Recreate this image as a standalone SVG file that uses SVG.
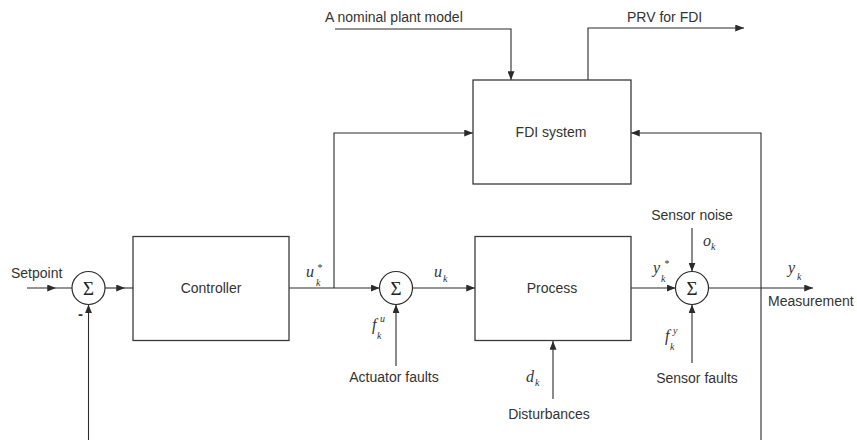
<svg xmlns="http://www.w3.org/2000/svg" width="857" height="440" viewBox="0 0 857 440">
  <defs>
    <marker id="arr" viewBox="0 0 10 8" refX="10" refY="4" markerWidth="9" markerHeight="7" markerUnits="userSpaceOnUse" orient="auto">
      <path d="M0,0 L10,4 L0,8 Z" fill="#2b2b2b"/>
    </marker>
  </defs>
  <style>
    .box { fill: #ffffff; stroke: #3a3a3a; stroke-width: 1.3; }
    .sum { fill: #ffffff; stroke: #2b2b2b; stroke-width: 1.2; }
    .wire { fill: none; stroke: #2b2b2b; stroke-width: 1.1; }
    .lbl { font-family: "Liberation Sans", Arial, sans-serif; font-size: 14px; fill: #333333; }
    .mid { text-anchor: middle; }
    .sig { font-family: "Liberation Serif", "Times New Roman", serif; font-size: 19px; fill: #222222; text-anchor: middle; }
    .m { font-family: "Liberation Serif", "Times New Roman", serif; font-style: italic; fill: #333333; }
    .mv { font-size: 16px; }
    .ms { font-size: 10px; }
  </style>

  <!-- connectors -->
  <g id="connectors">
    <path class="wire" d="M27,288 H56 H72" marker-mid="url(#arr)"/>
    <path class="wire" d="M105,288 H125 H133" marker-mid="url(#arr)"/>
    <path class="wire" d="M88.5,440 V304.5" marker-end="url(#arr)"/>
    <path class="wire" d="M289,288 H379.5" marker-end="url(#arr)"/>
    <path class="wire" d="M334,288 V133 H473" marker-end="url(#arr)"/>
    <path class="wire" d="M412.5,288 H475" marker-end="url(#arr)"/>
    <path class="wire" d="M396,366 V304.5" marker-end="url(#arr)"/>
    <path class="wire" d="M631,288 H675.5" marker-end="url(#arr)"/>
    <path class="wire" d="M553,399 V341" marker-end="url(#arr)"/>
    <path class="wire" d="M692,228 V271.5" marker-end="url(#arr)"/>
    <path class="wire" d="M692,363 V304.5" marker-end="url(#arr)"/>
    <path class="wire" d="M708.5,288 H813" marker-end="url(#arr)"/>
    <path class="wire" d="M761,440 V133 H631" marker-end="url(#arr)"/>
    <path class="wire" d="M335,29 H511 V80" marker-end="url(#arr)"/>
    <path class="wire" d="M588,80 V28 H744" marker-end="url(#arr)"/>
  </g>

  <!-- blocks -->
  <g id="controller">
    <rect class="box" x="133" y="236.5" width="156" height="104"/>
    <text class="lbl mid" x="211" y="293">Controller</text>
  </g>
  <g id="process">
    <rect class="box" x="475" y="236.5" width="156" height="104"/>
    <text class="lbl mid" x="552" y="293">Process</text>
  </g>
  <g id="fdi">
    <rect class="box" x="473" y="80" width="158" height="104"/>
    <text class="lbl mid" x="551" y="137">FDI system</text>
  </g>

  <!-- summing junctions -->
  <g id="sum1">
    <circle class="sum" cx="88.5" cy="288" r="16.5"/>
    <text class="sig" x="88.5" y="294.5">Σ</text>
  </g>
  <g id="sum2">
    <circle class="sum" cx="396" cy="288" r="16.5"/>
    <text class="sig" x="396" y="294.5">Σ</text>
  </g>
  <g id="sum3">
    <circle class="sum" cx="692" cy="288" r="16.5"/>
    <text class="sig" x="692" y="294.5">Σ</text>
  </g>

  <!-- signal names -->
  <g id="labels">
    <text class="lbl" x="11" y="278">Setpoint</text>
    <text x="80.5" y="319" font-family="Liberation Sans, Arial, sans-serif" font-size="15" font-weight="bold" fill="#333333" text-anchor="middle">-</text>
    <text class="lbl" x="325" y="22">A nominal plant model</text>
    <text class="lbl" x="627" y="22">PRV for FDI</text>
    <text class="lbl mid" x="692" y="220">Sensor noise</text>
    <text class="lbl" x="768" y="306">Measurement</text>
    <text class="lbl mid" x="697" y="383">Sensor faults</text>
    <text class="lbl mid" x="394" y="382">Actuator faults</text>
    <text class="lbl mid" x="549" y="419">Disturbances</text>
  </g>

  <!-- math symbols -->
  <g id="math">
    <text class="m mv" x="306" y="277">u</text>
    <text class="m ms" x="316" y="286">k</text>
    <text class="m ms" x="317" y="271">*</text>

    <text class="m mv" x="434" y="277">u</text>
    <text class="m ms" x="443" y="282">k</text>

    <text class="m mv" x="653" y="273">y</text>
    <text class="m ms" x="661" y="282">k</text>
    <text class="m ms" x="664" y="267">*</text>

    <text class="m mv" x="703" y="246">o</text>
    <text class="m ms" x="711" y="250">k</text>

    <text class="m mv" x="788" y="273">y</text>
    <text class="m ms" x="797" y="280">k</text>

    <text class="m mv" x="665" y="341">f</text>
    <text class="m ms" x="670" y="350">k</text>
    <text class="m ms" x="673" y="334">y</text>

    <text class="m mv" x="372" y="330">f</text>
    <text class="m ms" x="377" y="339">k</text>
    <text class="m ms" x="380" y="322">u</text>

    <text class="m mv" x="526" y="382">d</text>
    <text class="m ms" x="535" y="386">k</text>
  </g>
</svg>
